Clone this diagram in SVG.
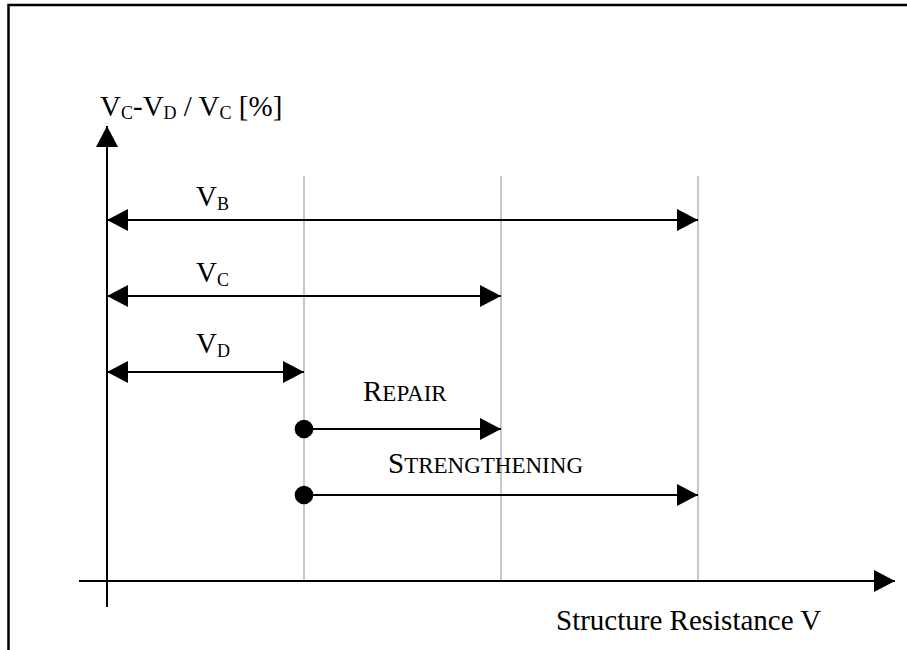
<svg xmlns="http://www.w3.org/2000/svg" width="907" height="650" viewBox="0 0 907 650">
<style>
.frame{fill:none;stroke:#000;stroke-width:2.5}
.axis{stroke:#000;stroke-width:2;fill:none}
.grid{stroke:#c8c8c8;stroke-width:2;fill:none}
.conn{stroke:#000;stroke-width:2;fill:none}
.t{font-family:"Liberation Serif","Times New Roman",serif;font-size:29px;fill:#000}
.sub{font-size:18px}
.sc{font-size:23px}
</style>
<defs>
<marker id="ah" markerUnits="userSpaceOnUse" markerWidth="21" markerHeight="22" viewBox="0 0 21 22" refX="21" refY="11" orient="auto-start-reverse">
<path d="M0,0 L21,11 L0,22 z" fill="#000"/>
</marker>
<marker id="dot" markerUnits="userSpaceOnUse" markerWidth="20" markerHeight="20" viewBox="0 0 20 20" refX="10" refY="10" orient="auto">
<circle cx="10" cy="10" r="9.3" fill="#000"/>
</marker>
</defs>
<rect width="907" height="650" fill="#fff"/>
<path class="frame" d="M8.5,660 L8.5,5 L920,5"/>
<g id="grid">
<line class="grid" x1="304" y1="176" x2="304" y2="581"/>
<line class="grid" x1="501" y1="176" x2="501" y2="581"/>
<line class="grid" x1="698" y1="176" x2="698" y2="581"/>
</g>
<g id="axes">
<line class="axis" x1="107" y1="607" x2="107" y2="126" marker-end="url(#ah)"/>
<line class="axis" x1="79" y1="581" x2="895" y2="581" marker-end="url(#ah)"/>
</g>
<g id="connectors">
<line class="conn" x1="107" y1="220" x2="698" y2="220" marker-start="url(#ah)" marker-end="url(#ah)"/>
<line class="conn" x1="107" y1="296" x2="501" y2="296" marker-start="url(#ah)" marker-end="url(#ah)"/>
<line class="conn" x1="107" y1="372" x2="304" y2="372" marker-start="url(#ah)" marker-end="url(#ah)"/>
<line class="conn" x1="304" y1="429" x2="501" y2="429" marker-start="url(#dot)" marker-end="url(#ah)"/>
<line class="conn" x1="304" y1="495" x2="698" y2="495" marker-start="url(#dot)" marker-end="url(#ah)"/>
</g>
<g id="y-label"><text class="t" x="100" y="116">V<tspan class="sub" dy="3">C</tspan><tspan dy="-3">-V</tspan><tspan class="sub" dy="3">D</tspan><tspan dy="-3"> / V</tspan><tspan class="sub" dy="3">C</tspan><tspan dy="-3"> [%]</tspan></text></g>
<g id="x-label"><text class="t" x="556" y="630">Structure Resistance V</text></g>
<g id="label-VB"><text class="t" x="196" y="206">V<tspan class="sub" dy="4">B</tspan></text></g>
<g id="label-VC"><text class="t" x="196" y="282">V<tspan class="sub" dy="4">C</tspan></text></g>
<g id="label-VD"><text class="t" x="196" y="353">V<tspan class="sub" dy="4">D</tspan></text></g>
<g id="label-repair"><text class="t" x="363" y="401">R<tspan class="sc">EPAIR</tspan></text></g>
<g id="label-strengthening"><text class="t" x="388" y="473">S<tspan class="sc">TRENGTHENING</tspan></text></g>
</svg>
